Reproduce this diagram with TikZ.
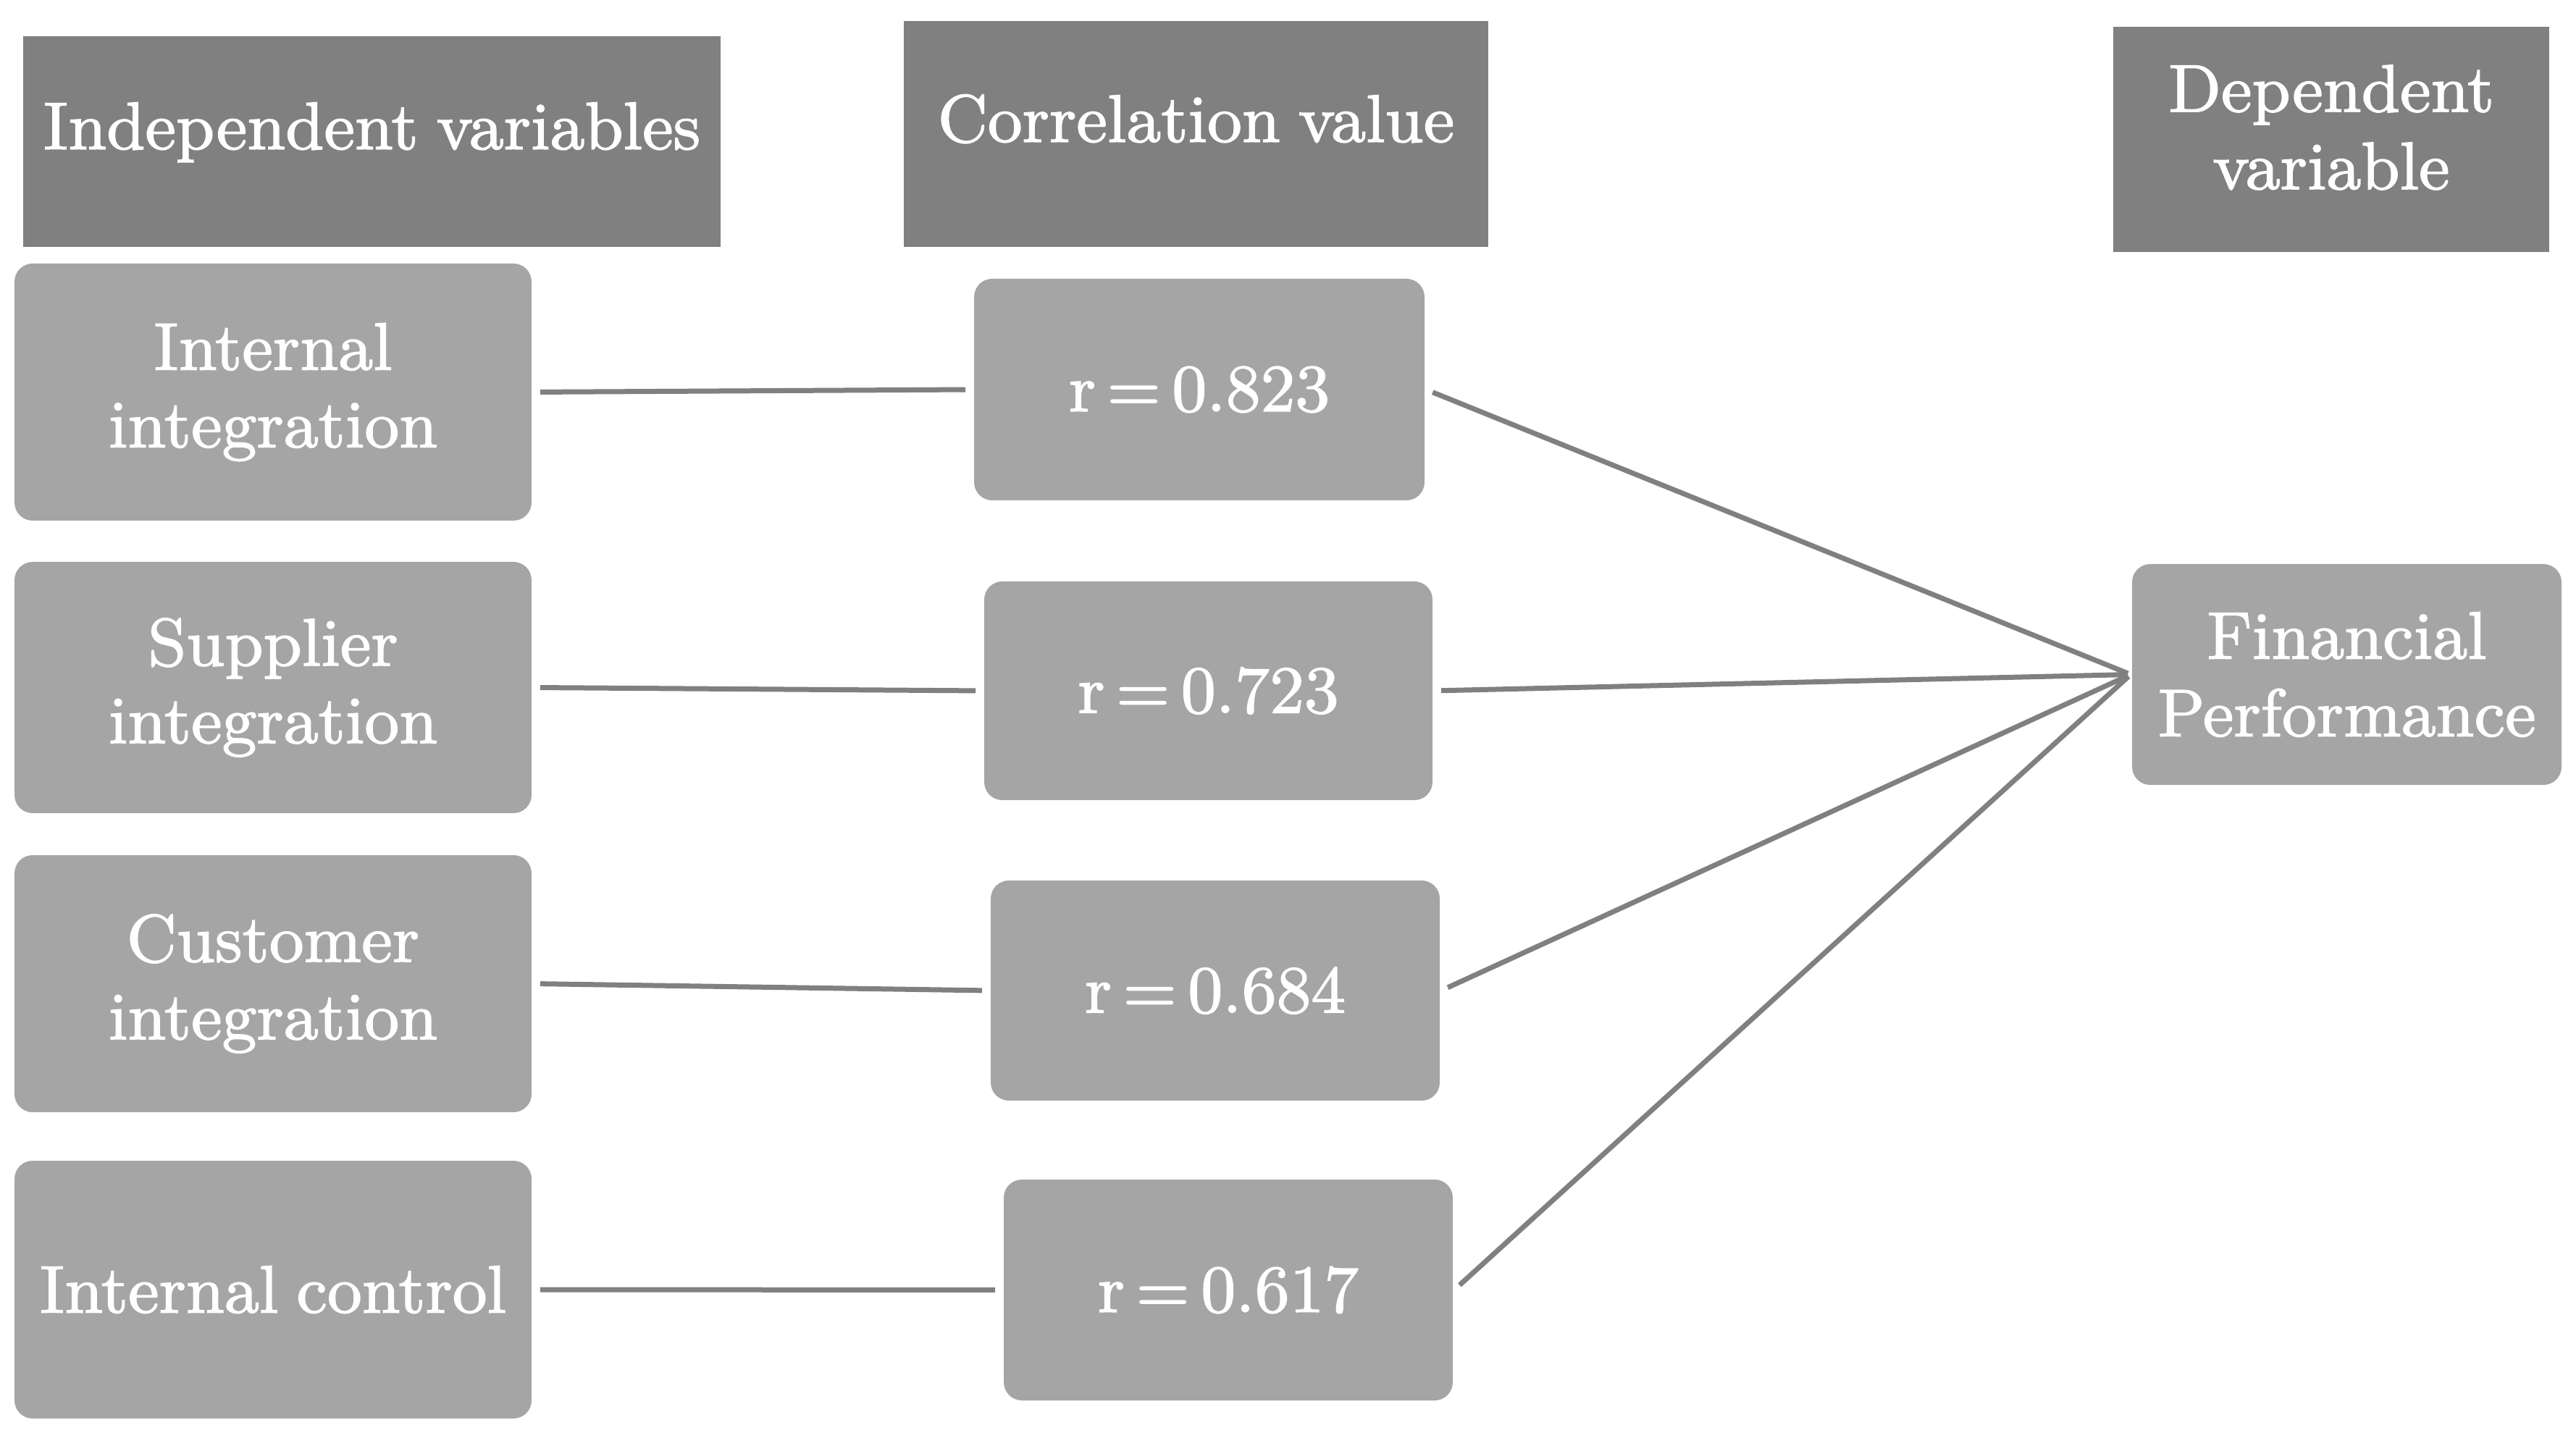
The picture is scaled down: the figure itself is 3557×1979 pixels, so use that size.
\documentclass[tikz,border=0pt]{standalone}
\usepackage{fontspec}
\newfontfamily\diafam{Latin Modern Roman}[FakeBold=1.6]
\definecolor{hdrgray}{HTML}{808080}
\definecolor{boxgray}{HTML}{A5A5A5}
\definecolor{linegray}{HTML}{808080}
\newcommand{\diafont}{\diafam\fontsize{9.3}{10.7}\selectfont\spaceskip=0.27em plus 0.1em}
\begin{document}
\begin{tikzpicture}[x=0.1pt,y=-0.1pt,
  hdr/.style={fill=hdrgray, draw=none, inner sep=0pt},
  hdrtext/.style={text=white, align=center, font=\diafont, inner sep=0pt},
  vbox/.style={fill=boxgray, draw=none, rounded corners=2.5pt, inner sep=0pt,
    text=white, align=center, font=\diafont},
  conn/.style={draw=linegray, line width=0.7pt, shorten <=1pt, shorten >=1pt},
  conn2/.style={draw=linegray, line width=0.7pt, shorten <=1pt, shorten >=0.4pt}]
\useasboundingbox (0,0) rectangle (3557,1979);

% headers
\node[hdr, minimum width=96.3pt, minimum height=29.1pt] (hIV) at (513.5,195.5) {};
\node[hdrtext, anchor=base] (tIV) at (513.5,206) {Independent variables};
\node[hdr, minimum width=80.7pt, minimum height=31.2pt] (hCV) at (1651.5,185) {};
\node[hdrtext, anchor=base] (tCV) at (1651.5,196) {Correlation value};
\node[hdr, minimum width=60.2pt, minimum height=31.1pt] (hDV) at (3219,192.5) {};
\node[hdrtext] (tDV) at (3219,176) {Dependent\\variable};

% independent variables
\node[vbox, minimum width=71.4pt, minimum height=35.5pt] (ii) at (377,541.5) {Internal\\integration};
\node[vbox, minimum width=71.4pt, minimum height=34.7pt] (si) at (377,949.5) {Supplier\\integration};
\node[vbox, minimum width=71.4pt, minimum height=35.5pt] (ci) at (377,1358.5) {Customer\\integration};
\node[vbox, minimum width=71.4pt, minimum height=35.6pt] (ic) at (377,1781) {Internal control};

% correlation values
\node[vbox, minimum width=62.2pt, minimum height=30.6pt] (r1) at (1656,538) {r\,=\,0.823};
\node[vbox, minimum width=61.9pt, minimum height=30.2pt] (r2) at (1668.5,954) {r\,=\,0.723};
\node[vbox, minimum width=62pt, minimum height=30.4pt] (r3) at (1678,1368) {r\,=\,0.684};
\node[vbox, minimum width=62pt, minimum height=30.5pt] (r4) at (1696,1781.5) {r\,=\,0.617};

% dependent variable
\node[vbox, minimum width=59.3pt, minimum height=30.5pt] (fp) at (3240.5,931.5) {Financial\\Performance};

% connectors
\draw[conn] (ii.east) -- (r1.west);
\draw[conn] (si.east) -- (r2.west);
\draw[conn] (ci.east) -- (r3.west);
\draw[conn] (ic.east) -- (r4.west);
\draw[conn2] (r1.east) -- (fp.west);
\draw[conn2] (r2.east) -- (fp.west);
\draw[conn2] (r3.east) -- (fp.west);
\draw[conn2] (r4.east) -- (fp.west);
\end{tikzpicture}
\end{document}
